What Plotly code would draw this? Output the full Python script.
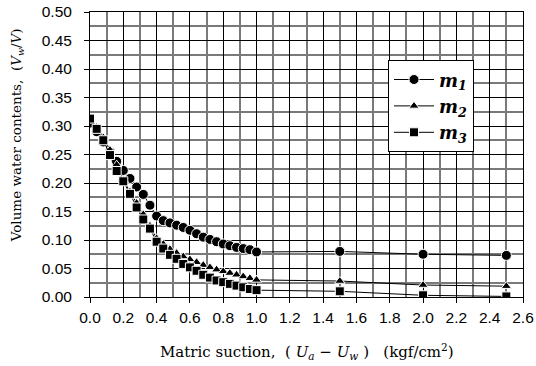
import plotly.graph_objects as go

suction = [0.00, 0.04, 0.08, 0.12, 0.16, 0.20, 0.24, 0.28, 0.32, 0.36, 0.40,
           0.44, 0.48, 0.52, 0.56, 0.60, 0.64, 0.68, 0.72, 0.76, 0.80, 0.84,
           0.88, 0.92, 0.96, 1.00, 1.50, 2.00, 2.50]

m1 = [0.305, 0.290, 0.272, 0.255, 0.238, 0.222, 0.208, 0.193, 0.180, 0.161, 0.142,
      0.134, 0.130, 0.126, 0.122, 0.117, 0.111, 0.105, 0.101, 0.097, 0.093, 0.090,
      0.087, 0.085, 0.083, 0.079, 0.080, 0.075, 0.073]
m2 = [0.310, 0.298, 0.280, 0.258, 0.232, 0.205, 0.185, 0.165, 0.145, 0.125, 0.103,
      0.093, 0.084, 0.077, 0.071, 0.066, 0.061, 0.056, 0.052, 0.048, 0.045, 0.042,
      0.039, 0.036, 0.033, 0.030, 0.028, 0.021, 0.019]
m3 = [0.313, 0.295, 0.275, 0.249, 0.221, 0.203, 0.181, 0.157, 0.136, 0.120, 0.097,
      0.085, 0.074, 0.067, 0.058, 0.052, 0.046, 0.039, 0.034, 0.029, 0.026, 0.023,
      0.020, 0.017, 0.014, 0.012, 0.010, 0.003, 0.001]

series = [
    ("<i>m</i><sub><i>1</i></sub>", m1, "circle", 10),
    ("<i>m</i><sub><i>2</i></sub>", m2, "triangle-up", 9),
    ("<i>m</i><sub><i>3</i></sub>", m3, "square", 9),
]

x_title = ("Matric suction,  ( <i>U</i><sub><i>a</i></sub> \u2212 <i>U</i><sub><i>w</i></sub> )"
           "   (kgf/cm<sup>2</sup>)")
y_title = "Volume water contents,  (<i>V</i><sub><i>w</i></sub>/<i>V</i>)"

fig = go.Figure()
for name, vals, sym, size in series:
    fig.add_trace(go.Scatter(
        x=suction, y=vals, name=name, mode="lines+markers",
        line=dict(color="black", width=1),
        marker=dict(symbol=sym, size=size, color="black",
                    line=dict(color="white", width=1)),
    ))

axis_common = dict(
    showline=True, linecolor="black", linewidth=1, mirror=True,
    ticks="outside", ticklen=5, tickcolor="black",
    gridcolor="black", gridwidth=1, automargin=False,
    tickfont=dict(family="Liberation Sans, Arial", size=15.5, color="black"),
    zeroline=False,
)

fig.update_xaxes(
    range=[0, 2.6], dtick=0.2, tick0=0, tickformat=".1f", ticklabelstandoff=1,
    minor=dict(dtick=0.1, showgrid=True, gridcolor="#7a7a7a", gridwidth=1.5, ticks=""),
    **axis_common,
)
fig.update_yaxes(
    range=[0, 0.5], dtick=0.05, tick0=0, tickformat=".2f", ticklabelstandoff=9,
    minor=dict(dtick=0.025, showgrid=True, gridcolor="#7a7a7a", gridwidth=1.5, ticks=""),
    **axis_common,
)

fig.add_annotation(text=x_title, xref="paper", yref="paper",
                   x=(307 - 90) / 433, y=-(351 - 296.7) / 285,
                   xanchor="center", yanchor="middle", showarrow=False,
                   font=dict(family="DejaVu Serif", size=15, color="black"))
fig.add_annotation(text=y_title, xref="paper", yref="paper", textangle=-90,
                   x=-(90 - 17) / 433, y=(296.7 - 135) / 285,
                   xanchor="center", yanchor="middle", showarrow=False,
                   font=dict(family="DejaVu Serif", size=13.5, color="black"))

fig.update_layout(
    width=536, height=366,
    margin=dict(l=90, r=13, t=12, b=69),
    paper_bgcolor="white", plot_bgcolor="white",
    legend=dict(
        x=(388 - 90) / 433, y=(296.7 - 60) / 285, xanchor="left", yanchor="top",
        bgcolor="white", bordercolor="black", borderwidth=1,
        font=dict(family="DejaVu Serif", size=18, color="black", weight="bold"),
        tracegroupgap=0, itemwidth=40,
    ),
)

fig.write_html("out.html")
